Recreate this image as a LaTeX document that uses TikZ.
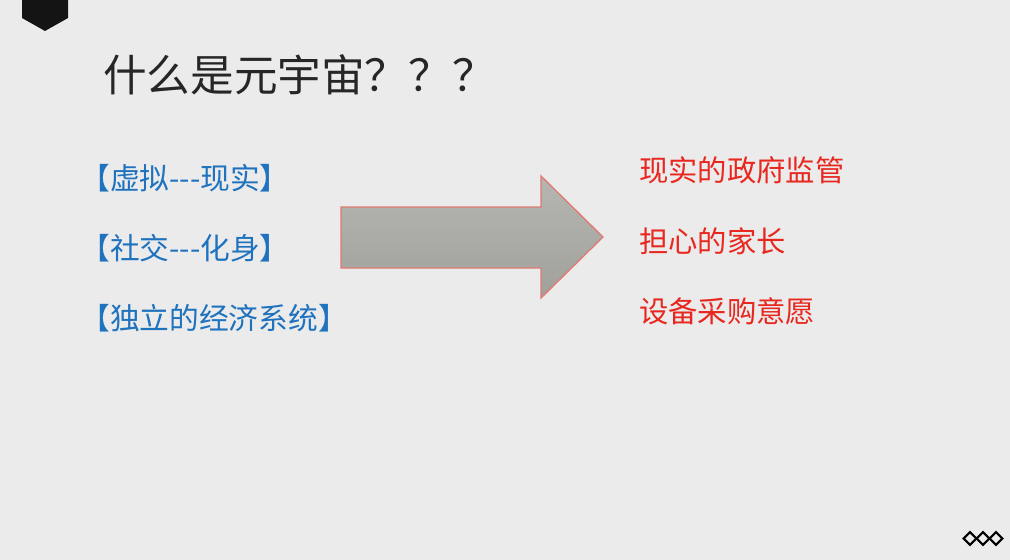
\documentclass[tikz,border=0pt]{standalone}
\usepackage{fontspec}
\setmainfont{Noto Sans CJK SC}
\newfontfamily\cjk{Noto Sans CJK SC}
\definecolor{bgc}{HTML}{EBEBEB}
\definecolor{bluet}{HTML}{1E72BE}
\definecolor{redt}{HTML}{E8271E}
\definecolor{arrowfill}{HTML}{A9A9A4}
\definecolor{arrowedge}{HTML}{E07A72}
\tikzset{
  lbl/.style={anchor=west, inner sep=0pt, font=\cjk\fontsize{22.3pt}{26pt}\selectfont, text=bluet},
  rlbl/.style={anchor=west, inner sep=0pt, font=\cjk\fontsize{22pt}{26pt}\selectfont, text=redt},
  ttl/.style={anchor=west, inner sep=0pt, font=\cjk\fontsize{32.7pt}{36pt}\selectfont, text=black!85},
  diam/.style={draw=black, line width=1.6pt, fill=none}
}
\begin{document}
\begin{tikzpicture}[x=0.75pt,y=-0.75pt]
\fill[bgc] (0,0) rectangle (1010,560);
\useasboundingbox (0,0) rectangle (1010,560);
% top-left tab
\fill[black!92] (22,0) -- (68,0) -- (68,18) -- (45,31) -- (22,18) -- cycle;
% title
\node[ttl] (title) at (103,75) {什么是元宇宙？？？};
% left items
\node[lbl] (l1) at (80,178) {【虚拟---现实】};
\node[lbl] (l2) at (80,248) {【社交---化身】};
\node[lbl] (l3) at (80,318) {【独立的经济系统】};
% arrow
\path[draw=arrowedge, line width=1pt, top color=arrowfill!85!white, bottom color=arrowfill!95!black]
  (341,207) -- (541,207) -- (541,176) -- (603,237) -- (541,298) -- (541,268) -- (341,268) -- cycle;
% right items
\node[rlbl] (r1) at (639,170) {现实的政府监管};
\node[rlbl] (r2) at (639,241) {担心的家长};
\node[rlbl] (r3) at (639,311) {设备采购意愿};
% bottom-right diamonds
\foreach \cx in {970,983,996}{
  \draw[diam] (\cx-6.3,538.5) -- (\cx,532.2) -- (\cx+6.3,538.5) -- (\cx,544.8) -- cycle;
}
\end{tikzpicture}
\end{document}
